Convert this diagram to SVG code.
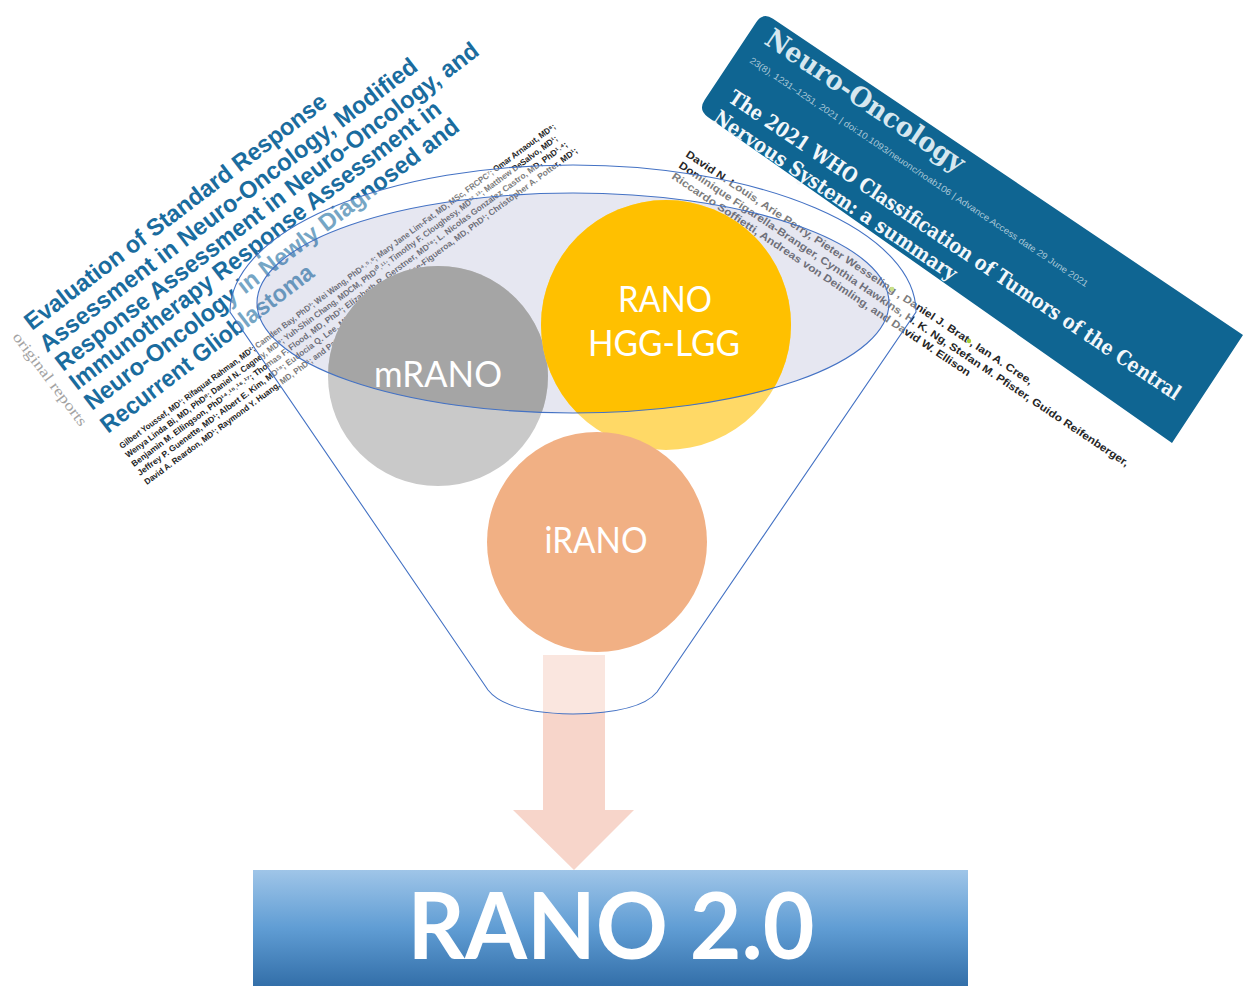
<svg xmlns="http://www.w3.org/2000/svg" width="1250" height="986" viewBox="0 0 1250 986">
  <style>
    .title { font-family: "Liberation Sans", Arial, sans-serif; font-weight: bold; font-size: 24px; fill: #1a6c9e; }
    .authL { font-family: "Liberation Sans", Arial, sans-serif; font-weight: bold; font-size: 8.5px; fill: #1e1e1e; }
    .authR { font-family: "Liberation Sans", Arial, sans-serif; font-weight: bold; font-size: 10.5px; fill: #262626; }
    .slab { font-family: "DejaVu Serif", serif; font-weight: bold; }
    .label { font-family: Lato, "Open Sans", sans-serif; font-size: 36px; fill: #ffffff; text-anchor: middle; }
    .rim { fill: none; stroke: #4472c4; stroke-width: 1.1; }
  </style>
  <defs>
    <clipPath id="bowl">
      <ellipse cx="573" cy="303" rx="316" ry="110"/>
    </clipPath>
    <linearGradient id="boxGrad" x1="0" y1="0" x2="0" y2="1">
      <stop offset="0" stop-color="#9fc5e8"/>
      <stop offset="0.5" stop-color="#609dd4"/>
      <stop offset="1" stop-color="#336fa9"/>
    </linearGradient>
  </defs>

  <!-- left article header -->
  <g id="journal-left">
    <text class="title" transform="translate(32,331) rotate(-37.3)" textLength="373" lengthAdjust="spacingAndGlyphs">Evaluation of Standard Response</text>
    <text class="title" transform="translate(47,353) rotate(-37.3)" textLength="468" lengthAdjust="spacingAndGlyphs">Assessment in Neuro-Oncology, Modified</text>
    <text class="title" transform="translate(63,372) rotate(-37.3)" textLength="525" lengthAdjust="spacingAndGlyphs">Response Assessment in Neuro-Oncology, and</text>
    <text class="title" transform="translate(77,391) rotate(-37.3)" textLength="460" lengthAdjust="spacingAndGlyphs">Immunotherapy Response Assessment in</text>
    <text class="title" transform="translate(92,411) rotate(-37.3)" textLength="464" lengthAdjust="spacingAndGlyphs">Neuro-Oncology in Newly Diagnosed and</text>
    <text class="title" transform="translate(108,434) rotate(-37.3)" textLength="261" lengthAdjust="spacingAndGlyphs">Recurrent Glioblastoma</text>
    <text transform="translate(12,337) rotate(53)" font-family="'Liberation Serif', serif" font-size="15" fill="#a3a3a3" textLength="113" lengthAdjust="spacingAndGlyphs">original reports</text>
    <text class="authL" transform="translate(122,449) rotate(-36.5)" textLength="540" lengthAdjust="spacingAndGlyphs">Gilbert Youssef, MD¹; Rifaquat Rahman, MD²; Camden Bay, PhD³; Wei Wang, PhD⁴˒⁵˒⁶; Mary Jane Lim-Fat, MD, MSc, FRCPC⁷; Omar Arnaout, MD⁸;</text>
    <text class="authL" transform="translate(128,458) rotate(-36.5)" textLength="535" lengthAdjust="spacingAndGlyphs">Wenya Linda Bi, MD, PhD⁸; Daniel N. Cagney, MD⁹; Yuh-Shin Chang, MDCM, PhD¹⁰˒¹¹; Timothy F. Cloughesy, MD¹²˒¹³; Matthew DeSalvo, MD¹;</text>
    <text class="authL" transform="translate(134,467) rotate(-36.5)" textLength="540" lengthAdjust="spacingAndGlyphs">Benjamin M. Ellingson, PhD¹⁴˒¹⁵˒¹⁶˒¹⁷; Thomas F. Flood, MD, PhD³; Elizabeth R. Gerstner, MD¹⁸; L. Nicolas Gonzalez Castro, MD, PhD¹˒⁴;</text>
    <text class="authL" transform="translate(140,476) rotate(-36.5)" textLength="545" lengthAdjust="spacingAndGlyphs">Jeffrey P. Guenette, MD¹; Albert E. Kim, MD¹⁸; Eudocia Q. Lee, MD¹; J. Ricardo McFaline-Figueroa, MD, PhD¹; Christopher A. Potter, MD¹;</text>
    <text class="authL" transform="translate(147,485) rotate(-36.5)" textLength="300" lengthAdjust="spacingAndGlyphs">David A. Reardon, MD¹; Raymond Y. Huang, MD, PhD¹; and Patrick Y. Wen, MD¹</text>
  </g>

  <!-- right article header -->
  <g id="journal-right">
    <path d="M773,18.7 L1243,335 L1172,443 L707.8,116.9 Q698,110 704.6,100 L756.4,22 Q763,12 773,18.7 Z" fill="#0f6592"/>
    <text class="slab" transform="translate(763,43) rotate(33.8)" font-size="27" fill="#d6e7ef" textLength="234" lengthAdjust="spacingAndGlyphs">Neuro-Oncology</text>
    <text transform="translate(749,62) rotate(33.8)" font-family="'Liberation Sans', Arial, sans-serif" font-size="9" fill="#a9c7d7" textLength="405" lengthAdjust="spacingAndGlyphs">23(8), 1231–1251, 2021 | doi:10.1093/neuonc/noab106 | Advance Access date 29 June 2021</text>
    <text class="slab" transform="translate(727,101) rotate(33.8)" font-size="20.5" fill="#f2f7fa" textLength="539" lengthAdjust="spacingAndGlyphs">The 2021 WHO Classification of Tumors of the Central</text>
    <text class="slab" transform="translate(712,121) rotate(33.8)" font-size="20.5" fill="#f2f7fa" textLength="288" lengthAdjust="spacingAndGlyphs">Nervous System: a summary</text>
    <text class="authR" transform="translate(685,156) rotate(33.6)" textLength="414" lengthAdjust="spacingAndGlyphs">David N. Louis, Arie Perry, Pieter Wesseling , Daniel J. Brat , Ian A. Cree,</text>
    <text class="authR" transform="translate(678,167) rotate(33.8)" textLength="539" lengthAdjust="spacingAndGlyphs">Dominique Figarella-Branger, Cynthia Hawkins, H. K. Ng, Stefan M. Pfister, Guido Reifenberger,</text>
    <text class="authR" transform="translate(671,178) rotate(33.8)" textLength="357" lengthAdjust="spacingAndGlyphs">Riccardo Soffietti, Andreas von Deimling, and David W. Ellison</text>
    <circle cx="892" cy="289" r="2.2" fill="#a6ce39"/>
    <circle cx="969" cy="341" r="2.2" fill="#a6ce39"/>
  </g>

  <!-- arrow from the funnel spout to the result -->
  <g id="connectors">
    <path d="M543,655 H605 V810 H634 L574,870 L513,810 H543 Z" fill="#f7d5ca"/>
  </g>

  <!-- funnel body: bowl tint and translucent walls -->
  <g id="funnel">
    <ellipse cx="573" cy="303" rx="316" ry="110" fill="#c7cae0" fill-opacity="0.45"/>
    <path fill="#ffffff" fill-opacity="0.4" fill-rule="evenodd"
          d="M230,312 A343,147 0 0 1 916,312 L657,692 Q640,713 573,714 Q506,713 488,690 Z
             M257,303 A316,110 0 1 0 889,303 A316,110 0 1 0 257,303 Z"/>
  </g>

  <g id="node-mrano">
    <circle cx="438" cy="376" r="110" fill="#c9c9c9"/>
    <circle cx="438" cy="376" r="110" fill="#a5a5a5" clip-path="url(#bowl)"/>
    <text class="label" x="438" y="387" textLength="128" lengthAdjust="spacingAndGlyphs">mRANO</text>
  </g>

  <g id="node-rano">
    <circle cx="666" cy="325" r="125" fill="#ffd966"/>
    <circle cx="666" cy="325" r="125" fill="#ffc000" clip-path="url(#bowl)"/>
    <text class="label" x="665" y="312" textLength="94" lengthAdjust="spacingAndGlyphs">RANO</text>
    <text class="label" x="664" y="356" textLength="152" lengthAdjust="spacingAndGlyphs">HGG-LGG</text>
  </g>

  <g id="node-irano">
    <circle cx="597" cy="542" r="110" fill="#f1b084"/>
    <text class="label" x="596" y="553" textLength="103" lengthAdjust="spacingAndGlyphs">iRANO</text>
  </g>

  <!-- funnel outlines drawn over the nodes -->
  <g id="funnel-rim">
    <path class="rim" d="M230,312 A343,147 0 0 1 916,312 L657,692 Q640,713 573,714 Q506,713 488,690 Z"/>
    <ellipse class="rim" cx="573" cy="303" rx="316" ry="110"/>
  </g>

  <g id="node-rano2">
    <rect x="253" y="870" width="715" height="116" fill="url(#boxGrad)"/>
    <text x="611" y="959" font-family="Lato, 'Open Sans', sans-serif" font-weight="bold" font-size="92" fill="#ffffff" text-anchor="middle" textLength="407" lengthAdjust="spacingAndGlyphs">RANO 2.0</text>
  </g>
</svg>
